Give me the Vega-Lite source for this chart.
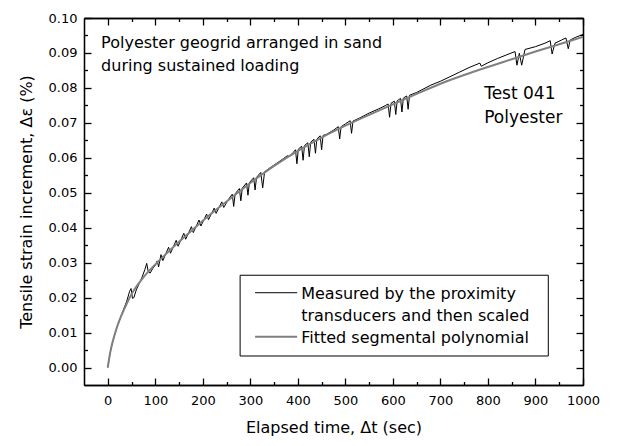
{
  "$schema": "https://vega.github.io/schema/vega-lite/v6.json",
  "width": 499,
  "height": 367,
  "autosize": "none",
  "padding": {"left": 84, "top": 18, "right": 37, "bottom": 61},
  "resolve": {"axis": {"x": "independent", "y": "independent"}},
  "layer": [
    {
      "data": {"values": [
        {"t":0,"strain":0},{"t":5,"strain":0.0042},{"t":10,"strain":0.0072},{"t":20,"strain":0.0118},{"t":30,"strain":0.0155},{"t":40,"strain":0.019},
        {"t":46,"strain":0.0218},{"t":49,"strain":0.0226},{"t":52,"strain":0.0198},{"t":55,"strain":0.02},{"t":60,"strain":0.0222},{"t":66,"strain":0.024},
        {"t":72,"strain":0.0258},{"t":78,"strain":0.028},{"t":82,"strain":0.0298},{"t":85,"strain":0.0275},{"t":89,"strain":0.027},{"t":95,"strain":0.0284},
        {"t":100,"strain":0.0292},{"t":104,"strain":0.0305},{"t":107,"strain":0.0288},{"t":112,"strain":0.0323},{"t":116,"strain":0.0306},
        {"t":128,"strain":0.0344},{"t":132,"strain":0.0327},{"t":144,"strain":0.0364},{"t":148,"strain":0.0347},{"t":160,"strain":0.0384},
        {"t":164,"strain":0.0367},{"t":176,"strain":0.0403},{"t":180,"strain":0.0386},{"t":192,"strain":0.0422},{"t":196,"strain":0.0405},
        {"t":208,"strain":0.0439},{"t":212,"strain":0.0423},{"t":224,"strain":0.0456},{"t":228,"strain":0.0441},{"t":240,"strain":0.0474},
        {"t":244,"strain":0.0458},{"t":255,"strain":0.0483},{"t":262,"strain":0.0496},{"t":265,"strain":0.0461},{"t":268,"strain":0.0497},
        {"t":277,"strain":0.0512},{"t":280,"strain":0.0477},{"t":283,"strain":0.0513},{"t":292,"strain":0.0528},{"t":295,"strain":0.0493},
        {"t":298,"strain":0.0529},{"t":307,"strain":0.0543},{"t":310,"strain":0.0508},{"t":313,"strain":0.0544},{"t":322,"strain":0.0558},
        {"t":326,"strain":0.0514},{"t":330,"strain":0.056},{"t":340,"strain":0.057},{"t":355,"strain":0.0584},{"t":370,"strain":0.0598},
        {"t":378,"strain":0.0606},{"t":382,"strain":0.0604},{"t":390,"strain":0.0615},{"t":395,"strain":0.0623},{"t":398,"strain":0.0583},
        {"t":401,"strain":0.0625},{"t":408,"strain":0.0633},{"t":411,"strain":0.0593},{"t":414,"strain":0.0635},{"t":421,"strain":0.0643},
        {"t":424,"strain":0.0603},{"t":427,"strain":0.0645},{"t":434,"strain":0.0653},{"t":437,"strain":0.0613},{"t":440,"strain":0.0654},
        {"t":447,"strain":0.0663},{"t":450,"strain":0.0623},{"t":453,"strain":0.0664},{"t":460,"strain":0.0667},{"t":475,"strain":0.0679},
        {"t":485,"strain":0.0689},{"t":488,"strain":0.0654},{"t":491,"strain":0.0689},{"t":500,"strain":0.0697},{"t":510,"strain":0.0706},
        {"t":513,"strain":0.067},{"t":516,"strain":0.0705},{"t":530,"strain":0.0714},{"t":550,"strain":0.0728},{"t":570,"strain":0.074},
        {"t":585,"strain":0.075},{"t":590,"strain":0.0754},{"t":593,"strain":0.0716},{"t":596,"strain":0.0756},{"t":603,"strain":0.0762},
        {"t":606,"strain":0.0724},{"t":609,"strain":0.0763},{"t":616,"strain":0.077},{"t":619,"strain":0.0731},{"t":622,"strain":0.0771},
        {"t":629,"strain":0.0777},{"t":632,"strain":0.0739},{"t":635,"strain":0.0779},{"t":650,"strain":0.0787},{"t":680,"strain":0.0808},
        {"t":700,"strain":0.0819},{"t":720,"strain":0.0832},{"t":740,"strain":0.0845},{"t":760,"strain":0.0858},{"t":783,"strain":0.0871},
        {"t":786,"strain":0.0862},{"t":800,"strain":0.0872},{"t":820,"strain":0.0884},{"t":840,"strain":0.0895},{"t":857,"strain":0.0904},
        {"t":861,"strain":0.0865},{"t":866,"strain":0.0899},{"t":871,"strain":0.0865},{"t":878,"strain":0.091},{"t":900,"strain":0.0918},
        {"t":920,"strain":0.0928},{"t":931,"strain":0.0935},{"t":935,"strain":0.0897},{"t":941,"strain":0.0928},{"t":955,"strain":0.0937},
        {"t":964,"strain":0.0943},{"t":969,"strain":0.0912},{"t":973,"strain":0.0937},{"t":985,"strain":0.0945},{"t":1000,"strain":0.0953}
      ]},
      "mark": {"type": "line", "color": "black", "strokeWidth": 1},
      "encoding": {
        "x": {
          "field": "t", "type": "quantitative",
          "scale": {"domain": [-50, 1000], "nice": false, "zero": false},
          "axis": {
            "orient": "bottom",
            "title": "Elapsed time, Δt (sec)",
            "values": [0,100,200,300,400,500,600,700,800,900,1000],
            "format": "d",
            "gridOpacity": 0,
            "domainColor": "black", "domainWidth": 1.3,
            "tickSize": -7, "tickColor": "black", "tickWidth": 1.3,
            "labelFont": "DejaVu Sans", "labelFontSize": 13, "labelColor": "black",
            "labelFlush": false,
            "labelPadding": 16,
            "titleFont": "DejaVu Sans", "titleFontSize": 16, "titleFontWeight": "normal", "titleColor": "black",
            "titlePadding": 12
          }
        },
        "y": {
          "field": "strain", "type": "quantitative",
          "scale": {"domain": [-0.005, 0.1], "nice": false, "zero": false},
          "axis": {
            "orient": "left",
            "title": "Tensile strain increment, Δε (%)",
            "values": [0,0.01,0.02,0.03,0.04,0.05,0.06,0.07,0.08,0.09,0.1],
            "format": ".2f",
            "grid": false,
            "domainColor": "black", "domainWidth": 1.3,
            "tickSize": -7, "tickColor": "black", "tickWidth": 1.3,
            "labelFont": "DejaVu Sans", "labelFontSize": 13, "labelColor": "black",
            "labelFlush": false,
            "labelPadding": 14,
            "titleFont": "DejaVu Sans", "titleFontSize": 16, "titleFontWeight": "normal", "titleColor": "black",
            "titlePadding": 14
          }
        }
      }
    },
    {
      "data": {"values": [
        {"t":0,"strain":0},{"t":5,"strain":0.0042},{"t":10,"strain":0.0072},{"t":20,"strain":0.0118},{"t":30,"strain":0.0153},
        {"t":40,"strain":0.0183},{"t":50,"strain":0.021},{"t":75,"strain":0.0258},{"t":100,"strain":0.0295},{"t":125,"strain":0.0328},
        {"t":150,"strain":0.036},{"t":175,"strain":0.039},{"t":200,"strain":0.042},{"t":250,"strain":0.0475},{"t":300,"strain":0.0528},
        {"t":350,"strain":0.0577},{"t":400,"strain":0.062},{"t":450,"strain":0.0658},{"t":500,"strain":0.0692},{"t":550,"strain":0.0723},
        {"t":600,"strain":0.0753},{"t":650,"strain":0.0783},{"t":700,"strain":0.0812},{"t":750,"strain":0.0837},{"t":800,"strain":0.086},
        {"t":850,"strain":0.0882},{"t":900,"strain":0.0904},{"t":950,"strain":0.0925},{"t":1000,"strain":0.0946}
      ]},
      "mark": {"type": "line", "color": "#808080", "strokeWidth": 2, "interpolate": "monotone"},
      "encoding": {
        "x": {
          "field": "t", "type": "quantitative",
          "axis": {
            "orient": "top", "title": null, "labels": false, "gridOpacity": 0,
            "values": [0,100,200,300,400,500,600,700,800,900,1000],
            "domainColor": "black", "domainWidth": 1.3,
            "tickSize": -7, "tickColor": "black", "tickWidth": 1.3
          }
        },
        "y": {
          "field": "strain", "type": "quantitative",
          "axis": {
            "orient": "right", "title": null, "labels": false, "grid": false,
            "values": [0,0.01,0.02,0.03,0.04,0.05,0.06,0.07,0.08,0.09,0.1],
            "domainColor": "black", "domainWidth": 1.3,
            "tickSize": -7, "tickColor": "black", "tickWidth": 1.3
          }
        }
      }
    },
    {
      "data": {"values": [{}]},
      "mark": {"type": "rect", "fill": "white", "stroke": "black", "strokeWidth": 1},
      "encoding": {
        "x": {"datum": 278.5, "type": "quantitative", "axis": {
            "orient": "bottom", "title": null, "labels": false, "gridOpacity": 0,
            "values": [50,150,250,350,450,550,650,750,850,950],
            "domainColor": "black", "domainWidth": 1.3,
            "tickSize": -3.5, "tickColor": "black", "tickWidth": 1.3
          }},
        "x2": {"datum": 927},
        "y": {"datum": 0.0264, "type": "quantitative", "axis": {
            "orient": "left", "title": null, "labels": false, "gridOpacity": 0,
            "values": [0.005,0.015,0.025,0.035,0.045,0.055,0.065,0.075,0.085,0.095],
            "domainColor": "black", "domainWidth": 1.3,
            "tickSize": -3.5, "tickColor": "black", "tickWidth": 1.3
          }},
        "y2": {"datum": 0.0033}
      }
    },
    {
      "data": {"values": [{}]},
      "mark": {"type": "rule", "color": "black", "strokeWidth": 1},
      "encoding": {
        "x": {"datum": 310, "type": "quantitative", "axis": {
            "orient": "top", "title": null, "labels": false, "gridOpacity": 0,
            "values": [50,150,250,350,450,550,650,750,850,950],
            "domainColor": "black", "domainWidth": 1.3,
            "tickSize": -3.5, "tickColor": "black", "tickWidth": 1.3
          }},
        "x2": {"datum": 398.5},
        "y": {"datum": 0.0214, "type": "quantitative", "axis": {
            "orient": "right", "title": null, "labels": false, "gridOpacity": 0,
            "values": [0.005,0.015,0.025,0.035,0.045,0.055,0.065,0.075,0.085,0.095],
            "domainColor": "black", "domainWidth": 1.3,
            "tickSize": -3.5, "tickColor": "black", "tickWidth": 1.3
          }}
      }
    },
    {
      "data": {"values": [{}]},
      "mark": {"type": "rule", "color": "#808080", "strokeWidth": 2},
      "encoding": {
        "x": {"datum": 310, "type": "quantitative", "axis": null},
        "x2": {"datum": 398.5},
        "y": {"datum": 0.0088, "type": "quantitative", "axis": null}
      }
    },
    {
      "data": {"values": [{}]},
      "mark": {"type": "text", "text": ["Measured by the proximity", "\u00a0transducers and then scaled", "Fitted segmental polynomial"], "align": "left", "baseline": "alphabetic", "fontSize": 16, "lineHeight": 22, "font": "DejaVu Sans", "color": "black"},
      "encoding": {
        "x": {"datum": 407, "type": "quantitative", "axis": null},
        "y": {"datum": 0.0197, "type": "quantitative", "axis": null}
      }
    },
    {
      "data": {"values": [{}]},
      "mark": {"type": "text", "text": ["Polyester geogrid arranged in sand", "during sustained loading"], "align": "left", "baseline": "alphabetic", "fontSize": 16, "lineHeight": 23, "font": "DejaVu Sans", "color": "black"},
      "encoding": {
        "x": {"datum": -14, "type": "quantitative", "axis": null},
        "y": {"datum": 0.0914, "type": "quantitative", "axis": null}
      }
    },
    {
      "data": {"values": [{}]},
      "mark": {"type": "text", "text": ["Test 041", "Polyester"], "align": "left", "baseline": "alphabetic", "fontSize": 17, "lineHeight": 23.5, "font": "DejaVu Sans", "color": "black"},
      "encoding": {
        "x": {"datum": 792, "type": "quantitative", "axis": null},
        "y": {"datum": 0.0767, "type": "quantitative", "axis": null}
      }
    }
  ]
}
